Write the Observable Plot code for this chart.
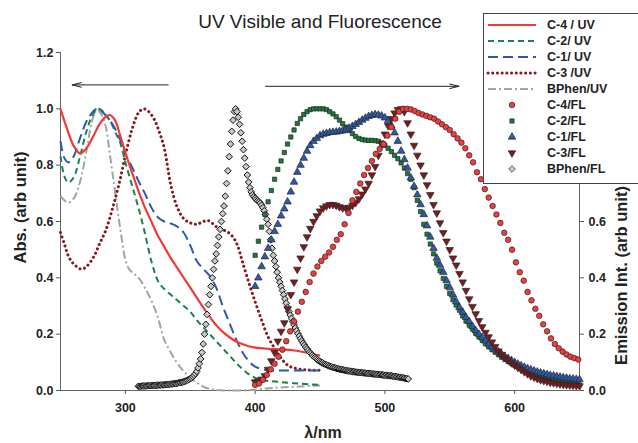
<!DOCTYPE html>
<html>
<head>
<meta charset="utf-8">
<script src="https://cdn.jsdelivr.net/npm/d3@7"></script>
<script src="https://cdn.jsdelivr.net/npm/@observablehq/plot@0.6"></script>
<style>
  html, body { margin: 0; padding: 0; background: #fff; overflow: hidden; }
  #wrap { position: relative; width: 638px; height: 443px; overflow: hidden; font-family: "Liberation Sans", Arial, Helvetica, sans-serif; }
  #legend { position: absolute; left: 483px; top: 13px; width: 175px; height: 171px; border: 1px solid #444; background: #fff; box-sizing: border-box; }
</style>
</head>
<body>
<div id="wrap"></div>
<script>
// ---------------- data ----------------
const titleText = "UV Visible and Fluorescence";
const xTicks = [300, 400, 500, 600];
const yTicks = [0, 0.2, 0.4, 0.6, 0.8, 1.0, 1.2];
const yTicksRight = [0, 0.2, 0.4, 0.6];

// UV absorption (nm, normalised)
const c4UvX = [250,255,260,265,270,275,280,285,288,292,296,300,305,310,315,320,325,330,335,340,345,350,355,360,365,370,375,380,385,390,395,400,410,420,430,440,450];
const c4UvY = [1.0,0.93,0.87,0.842,0.86,0.9,0.945,0.972,0.978,0.96,0.905,0.845,0.775,0.71,0.65,0.6,0.55,0.51,0.47,0.435,0.4,0.365,0.33,0.295,0.262,0.232,0.208,0.19,0.175,0.165,0.157,0.152,0.148,0.146,0.142,0.134,0.124];

const c2UvX = [250,253,256,260,265,270,275,279,283,289,293,296,300,305,310,315,320,325,328,335,340,345,350,355,360,365,370,375,380,385,390,395,400,405,410,420,435,450];
const c2UvY = [0.832,0.76,0.738,0.755,0.83,0.92,0.98,1.0,0.99,0.95,0.91,0.88,0.81,0.73,0.65,0.56,0.46,0.39,0.37,0.34,0.32,0.3,0.28,0.25,0.225,0.2,0.175,0.15,0.125,0.1,0.077,0.058,0.045,0.038,0.034,0.03,0.024,0.02];

const c1UvX = [250,253,256,260,265,270,275,278,282,287,292,296,300,305,310,315,320,325,330,335,340,345,350,355,360,365,370,375,380,385,390,395,400,410,420,435,450];
const c1UvY = [0.885,0.825,0.81,0.83,0.895,0.955,0.99,1.0,0.99,0.965,0.93,0.89,0.84,0.795,0.745,0.7,0.65,0.615,0.6,0.593,0.582,0.56,0.515,0.46,0.432,0.407,0.365,0.3,0.242,0.185,0.138,0.105,0.085,0.072,0.071,0.071,0.071];

const c3UvX = [250,253,256,260,266,270,276,280,285,290,295,300,305,310,314,318,322,326,330,335,340,345,350,355,360,364,368,372,378,382,386,390,395,400,405,410,415,420,425,430,440,450];
const c3UvY = [0.561,0.52,0.478,0.45,0.431,0.44,0.478,0.52,0.57,0.645,0.73,0.835,0.925,0.985,1.0,0.99,0.965,0.92,0.86,0.73,0.65,0.61,0.595,0.59,0.6,0.603,0.59,0.575,0.565,0.55,0.52,0.46,0.385,0.315,0.25,0.19,0.15,0.115,0.09,0.08,0.073,0.072];

const bphenUvX = [250,253,256,260,265,270,274,278,282,285,288,291,294,297,300,303,307,311,315,320,325,330,335,340,345,350,355,360,365,370,380,390,400,410,420,435,450];
const bphenUvY = [0.69,0.675,0.667,0.68,0.74,0.85,0.95,1.0,0.975,0.935,0.84,0.74,0.64,0.545,0.465,0.43,0.413,0.395,0.365,0.32,0.26,0.18,0.135,0.097,0.068,0.047,0.028,0.014,0.006,0.002,0,0,0.003,0.008,0.011,0.014,0.018];

// Fluorescence (regular wavelength grids)
const c4FlStart = 400, c4FlStep = 3;
const c4FlY = [
  0.02,0.025,0.038,0.055,0.075,0.095,0.12,0.145,0.175,0.21,
  0.245,0.28,0.315,0.35,0.385,0.415,0.44,0.46,0.475,0.49,
  0.51,0.535,0.555,0.59,0.63,0.675,0.705,0.735,0.765,0.79,
  0.815,0.84,0.858,0.875,0.905,0.935,0.965,0.99,1.0,1.0,
  0.998,0.992,0.985,0.98,0.975,0.97,0.965,0.955,0.945,0.935,
  0.925,0.91,0.895,0.88,0.86,0.835,0.81,0.775,0.75,0.715,
  0.685,0.655,0.625,0.595,0.56,0.535,0.5,0.455,0.42,0.39,
  0.35,0.32,0.29,0.265,0.235,0.21,0.185,0.165,0.15,0.138,
  0.128,0.12,0.115,0.11];

const c2FlStart = 400, c2FlStep = 2.5;
const c2FlY = [
  0.48,0.53,0.58,0.625,0.67,0.71,0.75,0.785,0.815,0.845,
  0.875,0.9,0.925,0.948,0.965,0.98,0.99,0.997,1.0,1.0,
  1.0,1.0,0.997,0.99,0.982,0.972,0.96,0.947,0.935,0.923,
  0.912,0.902,0.895,0.891,0.889,0.888,0.888,0.887,0.885,0.879,
  0.87,0.86,0.848,0.835,0.823,0.808,0.79,0.77,0.75,0.72,
  0.675,0.635,0.59,0.555,0.52,0.485,0.452,0.425,0.398,0.37,
  0.345,0.322,0.303,0.285,0.265,0.247,0.232,0.218,0.203,0.19,
  0.178,0.166,0.155,0.145,0.136,0.127,0.118,0.11,0.103,0.097,
  0.09,0.084,0.078,0.073,0.068,0.063,0.059,0.055,0.051,0.048,
  0.045,0.042,0.039,0.036,0.033,0.03,0.028,0.026,0.024,0.022,
  0.02];

const c1FlStart = 400, c1FlStep = 2.5;
const c1FlY = [
  0.37,0.4,0.44,0.475,0.505,0.535,0.565,0.59,0.62,0.645,
  0.67,0.705,0.74,0.775,0.8,0.825,0.85,0.87,0.885,0.895,
  0.905,0.91,0.913,0.916,0.917,0.918,0.92,0.922,0.926,0.932,
  0.938,0.945,0.952,0.96,0.967,0.973,0.977,0.98,0.978,0.975,
  0.968,0.958,0.94,0.915,0.885,0.85,0.82,0.79,0.755,0.725,
  0.695,0.66,0.625,0.585,0.545,0.505,0.47,0.445,0.42,0.39,
  0.365,0.34,0.315,0.295,0.278,0.26,0.245,0.228,0.213,0.2,
  0.188,0.176,0.165,0.155,0.145,0.137,0.128,0.12,0.113,0.107,
  0.1,0.094,0.088,0.083,0.078,0.074,0.07,0.066,0.063,0.06,
  0.057,0.054,0.052,0.05,0.048,0.046,0.044,0.042,0.041,0.04,
  0.039];

const c3FlStart = 400, c3FlStep = 2.5;
const c3FlY = [
  0.03,0.033,0.04,0.052,0.075,0.105,0.135,0.175,0.21,0.24,
  0.29,0.34,0.385,0.43,0.47,0.51,0.545,0.575,0.6,0.62,
  0.637,0.648,0.655,0.66,0.66,0.657,0.652,0.648,0.647,0.65,
  0.657,0.667,0.68,0.697,0.715,0.735,0.765,0.795,0.835,0.875,
  0.91,0.94,0.965,0.985,0.997,1.0,0.99,0.95,0.91,0.87,
  0.835,0.8,0.765,0.73,0.695,0.66,0.63,0.595,0.56,0.53,
  0.5,0.47,0.445,0.415,0.385,0.355,0.325,0.298,0.272,0.248,
  0.226,0.206,0.19,0.172,0.156,0.14,0.128,0.118,0.108,0.098,
  0.09,0.082,0.074,0.066,0.059,0.052,0.047,0.042,0.038,0.035,
  0.032,0.029,0.027,0.025,0.023,0.021,0.02,0.019,0.018,0.017,
  0.016];

const bphenFlStart = 310, bphenFlStep = 1;
const bphenFlY = [
  0.015,0.015,0.015,0.016,0.016,0.016,0.016,0.017,0.017,0.017,
  0.017,0.018,0.018,0.018,0.018,0.019,0.019,0.019,0.02,0.02,
  0.02,0.021,0.021,0.022,0.022,0.023,0.023,0.024,0.025,0.025,
  0.026,0.027,0.028,0.029,0.03,0.031,0.033,0.035,0.037,0.039,
  0.042,0.045,0.049,0.054,0.06,0.068,0.08,0.095,0.112,0.135,
  0.165,0.2,0.235,0.27,0.305,0.34,0.37,0.4,0.43,0.46,
  0.485,0.515,0.545,0.572,0.6,0.628,0.655,0.69,0.735,0.78,
  0.83,0.875,0.92,0.96,0.99,1.0,0.99,0.97,0.945,0.915,
  0.885,0.855,0.825,0.795,0.765,0.74,0.72,0.705,0.695,0.688,
  0.683,0.678,0.674,0.67,0.665,0.658,0.649,0.638,0.625,0.608,
  0.59,0.565,0.535,0.505,0.48,0.46,0.44,0.42,0.4,0.385,
  0.37,0.355,0.34,0.325,0.31,0.295,0.28,0.268,0.256,0.244,
  0.233,0.222,0.212,0.202,0.193,0.184,0.176,0.168,0.161,0.154,
  0.148,0.142,0.136,0.131,0.126,0.121,0.117,0.113,0.109,0.106,
  0.103,0.1,0.098,0.095,0.093,0.091,0.089,0.087,0.085,0.084,
  0.082,0.081,0.08,0.078,0.077,0.076,0.075,0.074,0.073,0.072,
  0.071,0.07,0.069,0.069,0.068,0.067,0.067,0.066,0.065,0.065,
  0.064,0.064,0.063,0.063,0.062,0.062,0.061,0.061,0.06,0.06,
  0.059,0.059,0.058,0.058,0.057,0.057,0.056,0.056,0.055,0.055,
  0.054,0.054,0.053,0.053,0.052,0.052,0.051,0.05,0.05,0.049,
  0.048,0.047,0.047,0.046,0.045,0.044,0.043,0.042,0.041];

// direction arrows (UV ← , FL →)
const arrowFrom = [333, 408];
const arrowTo = [259, 557];
const arrowLevel = [1.085, 1.08];

const legendLabels = ["C-4 / UV", "C-2/ UV", "C-1/ UV", "C-3 /UV", "BPhen/UV", "C-4/FL", "C-2/FL", "C-1/FL", "C-3/FL", "BPhen/FL"];

// ---------------- helpers ----------------
const pairs = (xs, ys) => xs.map((x, i) => ({x, y: ys[i]}));
const grid = (start, step, ys) => ys.map((y, i) => ({x: start + i * step, y}));

const triangleDown = {
  draw(context, size) {
    const y = Math.sqrt(size / (Math.sqrt(3) * 3));
    context.moveTo(0, 2 * y);
    context.lineTo(-Math.sqrt(3) * y, -y);
    context.lineTo(Math.sqrt(3) * y, -y);
    context.closePath();
  }
};

const lineStyles = [
  {data: pairs(bphenUvX, bphenUvY), stroke: "#a3a3a3", strokeWidth: 2, strokeDasharray: "8,3,2,3", linecap: "butt"},
  {data: pairs(c3UvX, c3UvY), stroke: "#821a1e", strokeWidth: 3, strokeDasharray: "0.1,4.6", linecap: "round"},
  {data: pairs(c2UvX, c2UvY), stroke: "#17834a", strokeWidth: 2, strokeDasharray: "6,4", linecap: "butt"},
  {data: pairs(c1UvX, c1UvY), stroke: "#2b5aab", strokeWidth: 2, strokeDasharray: "10,5", linecap: "butt"},
  {data: pairs(c4UvX, c4UvY), stroke: "#f03a3a", strokeWidth: 2.2, strokeDasharray: null, linecap: "butt"}
];

const symStroke = "#262626";
const fl = {
  bphen: {data: grid(bphenFlStart, bphenFlStep, bphenFlY), symbol: "diamond2", r: 3, fill: "#c8c8c8", sw: 1, stroke: "#111"},
  c2: {data: grid(c2FlStart, c2FlStep, c2FlY), symbol: "square", r: 2.4, fill: "#1a7d3c", sw: 0.7, stroke: symStroke},
  c1: {data: grid(c1FlStart, c1FlStep, c1FlY), symbol: "triangle", r: 2.8, fill: "#2b5aab", sw: 0.7, stroke: symStroke},
  c3: {data: grid(c3FlStart, c3FlStep, c3FlY), symbol: triangleDown, r: 2.8, fill: "#7d1a1e", sw: 0.7, stroke: symStroke},
  c4: {data: grid(c4FlStart, c4FlStep, c4FlY), symbol: "circle", r: 2.8, fill: "#f03c3c", sw: 0.7, stroke: symStroke}
};

const fmt = d3.format(".1f");
const font = "'Liberation Sans', Arial, Helvetica, sans-serif";

const chart = Plot.plot({
  width: 638,
  height: 443,
  marginTop: 52,
  marginBottom: 53,
  marginLeft: 60,
  marginRight: 59,
  x: {domain: [250, 650]},
  y: {domain: [0, 1.2]},
  style: {fontFamily: font, fontSize: "12.5px", fontWeight: "bold", color: "#222", background: "white", overflow: "visible"},
  marks: [
    Plot.axisX({ticks: xTicks, tickSize: 4, tickPadding: 9, label: null, stroke: "#555"}),
    Plot.axisY({anchor: "left", ticks: yTicks, tickFormat: fmt, tickSize: 4, tickPadding: 3, label: null, stroke: "#555"}),
    Plot.axisY({anchor: "right", ticks: yTicksRight, tickFormat: fmt, tickSize: 4, tickPadding: 5, label: null, stroke: "#555"}),
    Plot.ruleX([250, 650], {stroke: "#666", strokeWidth: 1}),
    Plot.ruleY([0], {stroke: "#666", strokeWidth: 1}),
    ...lineStyles.map(s => Plot.line(s.data, {x: "x", y: "y", stroke: s.stroke, strokeWidth: s.strokeWidth, strokeDasharray: s.strokeDasharray, strokeLinecap: s.linecap, curve: "catmull-rom"})),
    ...["bphen", "c2", "c1", "c3", "c4"].map(k => Plot.dot(fl[k].data, {x: "x", y: "y", symbol: fl[k].symbol, r: fl[k].r, fill: fl[k].fill, stroke: fl[k].stroke, strokeWidth: fl[k].sw})),
    Plot.arrow([0, 1], {x1: i => arrowFrom[i], x2: i => arrowTo[i], y1: i => arrowLevel[i], y2: i => arrowLevel[i], stroke: "#222", strokeWidth: 1, headLength: 14, headAngle: 28}),
    Plot.text([titleText], {frameAnchor: "top", dy: -31, lineAnchor: "middle", textAnchor: "middle", fontSize: 19, fontWeight: "normal", fill: "#222"}),
    Plot.text(["Abs. (arb unit)"], {frameAnchor: "left", dx: -40, dy: -14, rotate: -90, textAnchor: "middle", lineAnchor: "middle", fontSize: 16.5, fontWeight: "bold", fill: "#222"}),
    Plot.text(["Emission Int. (arb unit)"], {frameAnchor: "right", dx: 42, dy: 54, rotate: -90, textAnchor: "middle", lineAnchor: "middle", fontSize: 16.5, fontWeight: "bold", fill: "#222"}),
    Plot.text(["λ/nm"], {frameAnchor: "bottom", dx: 3, dy: 42, textAnchor: "middle", lineAnchor: "middle", fontSize: 16, fontWeight: "bold", fill: "#222"})
  ]
});

const wrap = document.getElementById("wrap");
wrap.appendChild(chart);

// ---------------- legend ----------------
const legend = d3.select(wrap).append("div").attr("id", "legend");
const lsvg = legend.append("svg").attr("width", 175).attr("height", 169).style("display", "block");
const symOrder = [fl.c4, fl.c2, fl.c1, fl.c3, fl.bphen];
const lineOrder = [lineStyles[4], lineStyles[2], lineStyles[3], lineStyles[1], lineStyles[0]];
const d3Sym = s => s === "circle" ? d3.symbolCircle : s === "square" ? d3.symbolSquare : s === "triangle" ? d3.symbolTriangle : s === "diamond2" ? d3.symbolDiamond2 : s;
legendLabels.forEach((lab, i) => {
  const cy = 11 + 16 * i;
  if (i < 5) {
    const s = lineOrder[i];
    lsvg.append("line").attr("x1", 4).attr("x2", 52).attr("y1", cy).attr("y2", cy)
      .attr("stroke", s.stroke).attr("stroke-width", s.strokeWidth)
      .attr("stroke-dasharray", s.strokeDasharray).attr("stroke-linecap", s.linecap);
  } else {
    const s = symOrder[i - 5];
    lsvg.append("path").attr("transform", `translate(28,${cy})`)
      .attr("d", d3.symbol(d3Sym(s.symbol), Math.PI * s.r * s.r)())
      .attr("fill", s.fill).attr("stroke", symStroke).attr("stroke-width", 0.7);
  }
  lsvg.append("text").attr("x", 63).attr("y", cy).attr("dy", "0.35em")
    .attr("font-family", font).attr("font-size", 12.5).attr("font-weight", "bold").attr("fill", "#222")
    .text(lab);
});
</script>
</body>
</html>
